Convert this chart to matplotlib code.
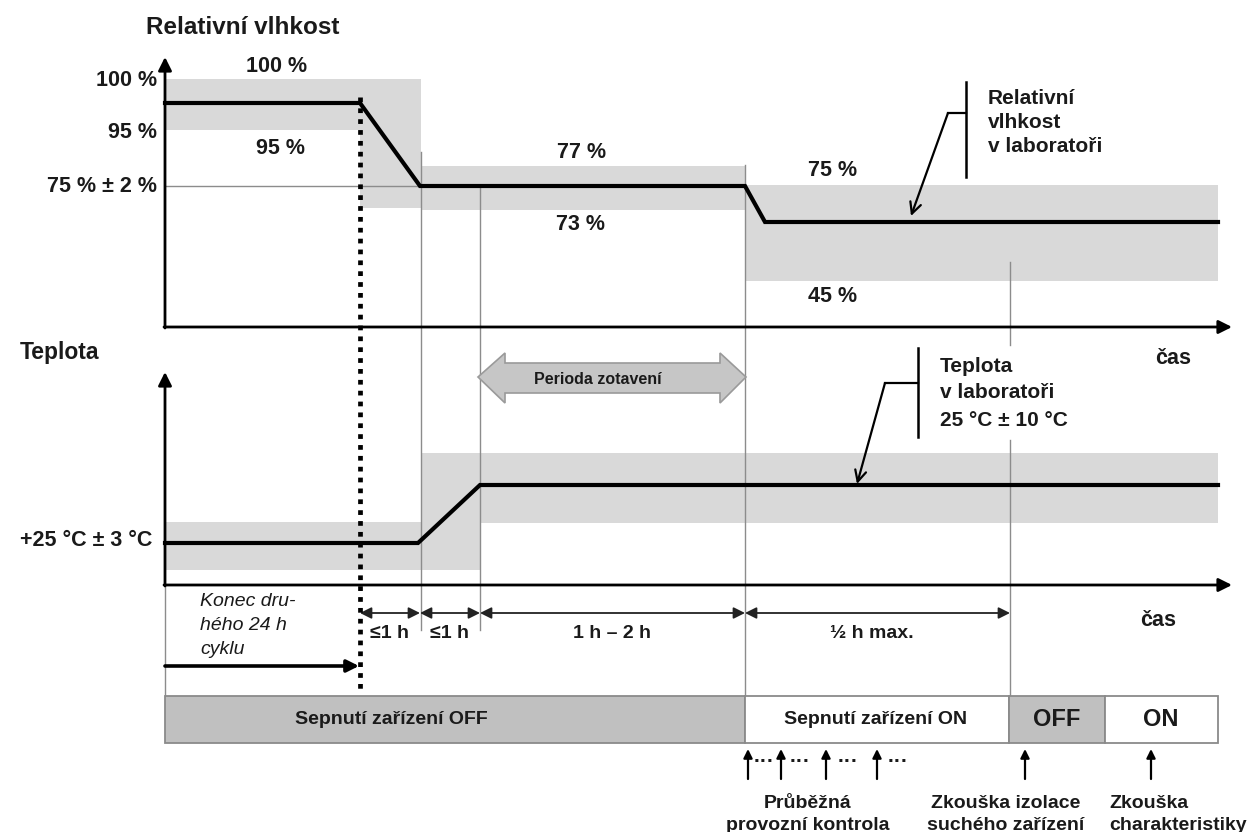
import matplotlib
matplotlib.use("Agg")
import matplotlib.pyplot as plt
from matplotlib.patches import Rectangle, Polygon

plt.rcParams['font.family'] = ['Liberation Sans', 'DejaVu Sans']

# ---------------- schematic data (diagram units) ----------------
# time breakpoints along the time axis
t_origin, t_cycle_end, t_rh_reached, t_temp_reached = 165, 360, 420, 480
t_recovery_end, t_insul_test, t_char_test, t_end = 745, 1010, 1105, 1218
t_axis_end = 1232

# relative humidity curve (schematic levels)
rh_time = [165, 360, 420, 745, 765, 1218]
rh_level = [103, 103, 186, 186, 222, 222]
# humidity tolerance bands: x0, x1, upper, lower
rh_band_x0 = [165, 360, 421, 745]
rh_band_x1 = [421, 421, 745, 1218]
rh_band_hi = [79, 130, 166, 185]
rh_band_lo = [130, 208, 210, 281]
rh_axis_labels = ["100 %", "95 %", "75 % \u00b1 2 %"]
rh_axis_label_y = [80, 133, 187]
rh_band_texts = ["100 %", "95 %", "77 %", "73 %", "75 %", "45 %"]
rh_band_text_x = [277, 280, 582, 580, 833, 833]
rh_band_text_y = [66, 148, 153, 224, 170, 297]

# temperature curve (schematic levels)
temp_time = [165, 418, 480, 1218]
temp_level = [543, 543, 485, 485]
temp_band_x0 = [165, 421, 480]
temp_band_x1 = [421, 480, 1218]
temp_band_hi = [522, 453, 453]
temp_band_lo = [570, 570, 523]

# duration intervals
dur_start = [360, 420, 480, 745]
dur_end = [420, 480, 745, 1010]
dur_labels = ["\u22641 h", "\u22641 h", "1 h \u2013 2 h", "\u00bd h max."]
dur_label_x = [389, 449, 612, 872]

# switching status bar
status_x0 = [165, 745, 1009, 1105]
status_x1 = [745, 1009, 1105, 1218]
status_labels = ["Sepnut\u00ed za\u0159\u00edzen\u00ed OFF", "Sepnut\u00ed za\u0159\u00edzen\u00ed ON", "OFF", "ON"]
status_label_x = [391, 876, 1057, 1161]
status_colors = ["#c0c0c0", "white", "#c0c0c0", "white"]
status_sizes = [14, 14, 17, 17]

# checks (up arrows)
check_x = [748, 781, 826, 877, 1025, 1151]
dots_x = [764, 800, 848, 898]

# ---------------- figure ----------------
fig = plt.figure(figsize=(12.5, 8.32), dpi=100)
ax = fig.add_axes([0, 0, 1, 1])
ax.set_xlim(0, 1250)
ax.set_ylim(832, 0)
ax.axis('off')

band_c = "#d9d9d9"
thin_c = "#8c8c8c"
txt_c = "#1a1a1a"

for x0, x1, hi, lo in zip(rh_band_x0, rh_band_x1, rh_band_hi, rh_band_lo):
    ax.add_patch(Rectangle((x0, hi), x1 - x0, lo - hi, facecolor=band_c, edgecolor='none', zorder=1))
for x0, x1, hi, lo in zip(temp_band_x0, temp_band_x1, temp_band_hi, temp_band_lo):
    ax.add_patch(Rectangle((x0, hi), x1 - x0, lo - hi, facecolor=band_c, edgecolor='none', zorder=1))

# thin guide lines
guides = [((421, 421), (152, 630)), ((480, 480), (186, 630)), ((745, 745), (165, 696)),
          ((1010, 1010), (262, 345)), ((1010, 1010), (440, 696)), ((165, 421), (186, 186)),
          ((165, 165), (585, 696))]
for xs, ys in guides:
    ax.plot(xs, ys, color=thin_c, lw=1.0, zorder=2)

# curves
ax.plot(rh_time, rh_level, color='black', lw=3.0, solid_joinstyle='miter', zorder=3)
ax.plot(temp_time, temp_level, color='black', lw=3.0, solid_joinstyle='miter', zorder=3)

# axes arrows
ap_axis = dict(arrowstyle='-|>', lw=2.0, color='black', mutation_scale=20, shrinkA=0, shrinkB=0)
for (xa, ya), (xb, yb) in [((165, 328), (165, 57)), ((164, 327), (t_axis_end, 327)),
                           ((165, 586), (165, 372)), ((164, 585), (t_axis_end, 585))]:
    ax.annotate('', xy=(xb, yb), xytext=(xa, ya), arrowprops=ap_axis, zorder=4)

# dotted line (end of second 24 h cycle)
ax.plot([360, 360], [97, 693], color='black', lw=3.4, linestyle=(0, (1, 1.3)),
        dash_capstyle='butt', zorder=5)

# headings
ax.text(243, 28, "Relativn\u00ed vlhkost", fontsize=17.5, fontweight='bold', color=txt_c,
        ha='center', va='center')
ax.text(20, 352, "Teplota", fontsize=16.5, fontweight='bold', color=txt_c, ha='left', va='center')
ax.text(1173, 359, "\u010das", fontsize=15.5, fontweight='bold', color=txt_c, ha='center', va='center')
ax.text(1158, 620, "\u010das", fontsize=15.5, fontweight='bold', color=txt_c, ha='center', va='center')

for lab, y in zip(rh_axis_labels, rh_axis_label_y):
    ax.text(157, y, lab, fontsize=15.5, fontweight='bold', color=txt_c, ha='right', va='center')
for lab, x, y in zip(rh_band_texts, rh_band_text_x, rh_band_text_y):
    ax.text(x, y, lab, fontsize=15.5, fontweight='bold', color=txt_c, ha='center', va='center')
ax.text(152, 541, "+25 \u00b0C \u00b1 3 \u00b0C", fontsize=15.5, fontweight='bold', color=txt_c,
        ha='right', va='center')

# annotation: RH in lab
ax.plot([966, 966], [82, 177], color='black', lw=1.8, zorder=4)
ax.plot([966, 948], [113, 113], color='black', lw=1.6, zorder=4)
ax.annotate('', xy=(911, 216), xytext=(948, 113),
            arrowprops=dict(arrowstyle='->', lw=1.6, color='black', mutation_scale=20,
                            shrinkA=0, shrinkB=0), zorder=4)
for s, y in zip(["Relativn\u00ed", "vlhkost", "v laborato\u0159i"], [99, 123, 147]):
    ax.text(988, y, s, fontsize=15, fontweight='bold', color=txt_c, ha='left', va='center')

# annotation: temperature in lab
ax.plot([918, 918], [348, 437], color='black', lw=1.8, zorder=4)
ax.plot([918, 885], [383, 383], color='black', lw=1.6, zorder=4)
ax.annotate('', xy=(857, 484), xytext=(885, 383),
            arrowprops=dict(arrowstyle='->', lw=1.6, color='black', mutation_scale=20,
                            shrinkA=0, shrinkB=0), zorder=4)
for s, y in zip(["Teplota", "v laborato\u0159i", "25 \u00b0C \u00b1 10 \u00b0C"], [367, 393, 420]):
    ax.text(940, y, s, fontsize=15, fontweight='bold', color=txt_c, ha='left', va='center')

# recovery period double arrow
pts = [(478, 377), (505, 353), (505, 363), (720, 363), (720, 353), (746, 377),
       (720, 403), (720, 393), (505, 393), (505, 403)]
ax.add_patch(Polygon(pts, closed=True, facecolor="#c6c6c6", edgecolor="#9a9a9a", lw=1.2, zorder=3))
ax.text(598, 379, "Perioda zotaven\u00ed", fontsize=11.5, fontweight='bold', color=txt_c,
        ha='center', va='center', zorder=4)

# end of cycle text + arrow
for s, y in zip(["Konec dru-", "h\u00e9ho 24 h", "cyklu"], [602, 625, 649]):
    ax.text(200, y, s, fontsize=14, fontstyle='italic', color=txt_c, ha='left', va='center')
ax.annotate('', xy=(359, 666), xytext=(165, 666),
            arrowprops=dict(arrowstyle='-|>', lw=2.6, color='black', mutation_scale=18,
                            shrinkA=0, shrinkB=0), zorder=4)

# duration dimension arrows
for x0, x1, lab, lx in zip(dur_start, dur_end, dur_labels, dur_label_x):
    ax.annotate('', xy=(x1, 613), xytext=(x0, 613),
                arrowprops=dict(arrowstyle='<|-|>', lw=1.3, color='#222222', mutation_scale=17,
                                shrinkA=0, shrinkB=0), zorder=4)
    ax.text(lx, 634, lab, fontsize=14, fontweight='bold', color=txt_c, ha='center', va='center')

# status bar
for x0, x1, col, lab, lx, fs in zip(status_x0, status_x1, status_colors, status_labels,
                                    status_label_x, status_sizes):
    ax.add_patch(Rectangle((x0, 696), x1 - x0, 47, facecolor=col, edgecolor='#8a8a8a', lw=1.3, zorder=3))
    ax.text(lx, 719, lab, fontsize=fs, fontweight='bold', color=txt_c, ha='center', va='center', zorder=4)

# check arrows
for x in check_x:
    ax.annotate('', xy=(x, 749), xytext=(x, 779),
                arrowprops=dict(arrowstyle='-|>', lw=1.6, color='black', mutation_scale=13,
                                shrinkA=0, shrinkB=0), zorder=4)
for x in dots_x:
    ax.text(x, 761, "\u00b7\u00b7\u00b7", fontsize=15, fontweight='bold', color=txt_c,
            ha='center', va='center')

for s, y in zip(["Pr\u016fb\u011b\u017en\u00e1", "provozn\u00ed kontrola"], [803, 826]):
    ax.text(808, y, s, fontsize=14, fontweight='bold', color=txt_c, ha='center', va='center')
for s, y in zip(["Zkou\u0161ka izolace", "such\u00e9ho za\u0159\u00edzen\u00ed"], [803, 826]):
    ax.text(1006, y, s, fontsize=14, fontweight='bold', color=txt_c, ha='center', va='center')
for s, y in zip(["Zkou\u0161ka", "charakteristiky"], [803, 826]):
    ax.text(1109, y, s, fontsize=14, fontweight='bold', color=txt_c, ha='left', va='center')

fig.savefig("out.png", dpi=100)
